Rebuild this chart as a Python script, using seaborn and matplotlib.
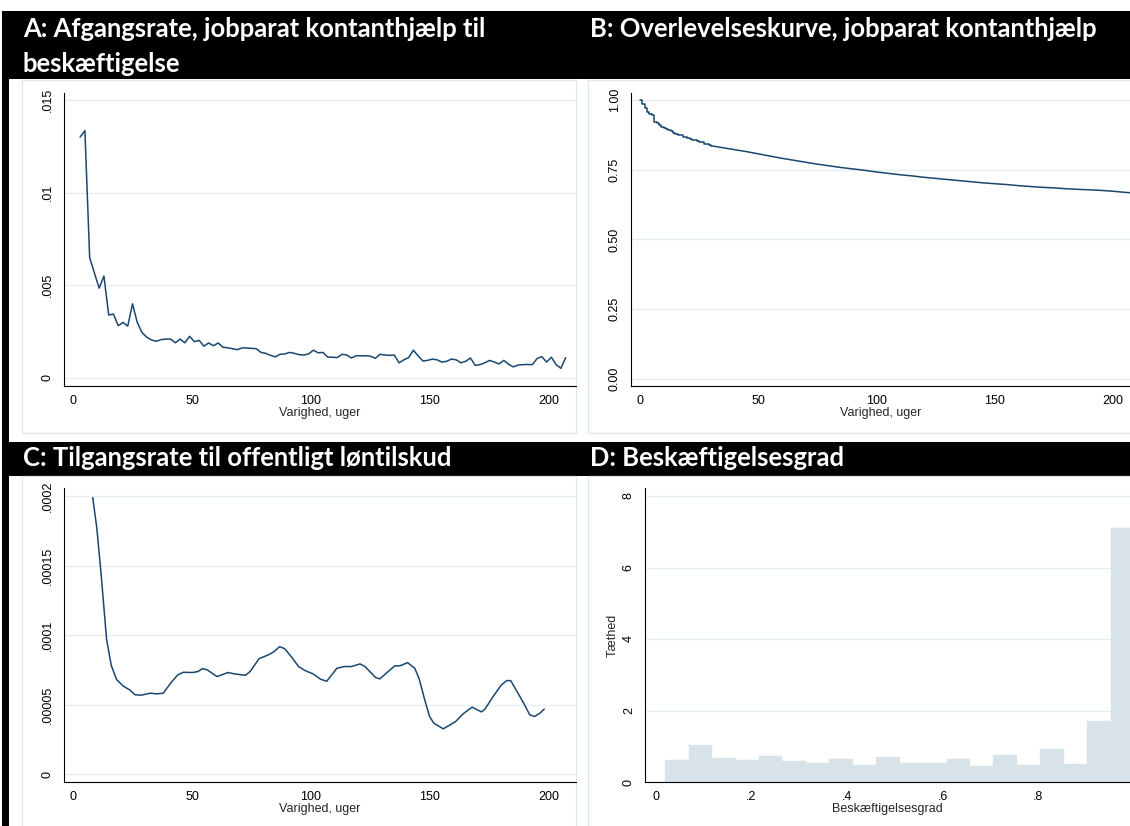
import numpy as np
import pandas as pd
import matplotlib
matplotlib.use("Agg")
import matplotlib.pyplot as plt
import seaborn as sns
from matplotlib.patches import Rectangle

# ---------------- data ----------------
titles_a = ["A: Afgangsrate, jobparat kontanthjælp til", "beskæftigelse"]
title_b = "B: Overlevelseskurve, jobparat kontanthjælp"
title_c = "C: Tilgangsrate til offentligt løntilskud"
title_d = "D: Beskæftigelsesgrad"
xlabel_weeks = "Varighed, uger"
xlabel_d = "Beskæftigelsesgrad"
ylabel_d = "Tæthed"

# Panel A: exit rate by week (x 1e-3)
weeks_a = list(range(3, 208, 2))
rate_a_milli = [13.0, 13.35, 6.5, 5.66, 4.85, 5.5, 3.4, 3.45, 2.82, 3.0,
                2.8, 4.0, 3.0, 2.45, 2.2, 2.05, 1.98, 2.07, 2.1, 2.1,
                1.9, 2.1, 1.9, 2.25, 1.96, 2.03, 1.72, 1.89, 1.74, 1.89,
                1.66, 1.63, 1.58, 1.53, 1.62, 1.62, 1.6, 1.58, 1.38, 1.33,
                1.22, 1.14, 1.28, 1.3, 1.38, 1.33, 1.26, 1.24, 1.3, 1.5,
                1.36, 1.38, 1.13, 1.12, 1.1, 1.28, 1.24, 1.08, 1.2, 1.2,
                1.2, 1.18, 1.06, 1.28, 1.24, 1.22, 1.24, 0.82, 0.98, 1.1,
                1.5, 1.2, 0.92, 0.95, 1.02, 0.98, 0.86, 0.9, 1.02, 0.98,
                0.82, 0.9, 1.08, 0.68, 0.72, 0.82, 0.95, 0.86, 0.76, 0.95,
                0.74, 0.6, 0.7, 0.72, 0.73, 0.72, 1.05, 1.15, 0.86, 1.12,
                0.72, 0.52, 1.1]
yticks_a = [0, 0.005, 0.01, 0.015]
yticklabels_a = ["0", ".005", ".01", ".015"]

# Panel B: survival curve (weekly steps early, then a smooth decline)
weeks_b = [0, 1, 2, 3, 4, 5, 6, 7, 8, 9, 10, 11, 12, 13, 14, 15, 16, 17, 18, 19,
           20, 21, 22, 23, 24, 25, 26, 27, 28, 29, 30, 35, 40, 45, 50, 55, 60, 65,
           70, 75, 80, 85, 90, 95, 100, 105, 110, 115, 120, 125, 130, 135, 140,
           145, 150, 155, 160, 165, 170, 175, 180, 185, 190, 195, 200, 205, 210]
surv_b = [1.0, 0.985, 0.972, 0.958, 0.950, 0.945, 0.922, 0.917, 0.912, 0.905,
          0.900, 0.896, 0.892, 0.888, 0.882, 0.878, 0.876, 0.873, 0.869, 0.866,
          0.863, 0.861, 0.858, 0.855, 0.853, 0.850, 0.848, 0.843, 0.841, 0.838,
          0.836, 0.829, 0.822, 0.815, 0.807, 0.799, 0.791, 0.784, 0.777, 0.770,
          0.764, 0.758, 0.753, 0.748, 0.742, 0.737, 0.732, 0.728, 0.723, 0.719,
          0.715, 0.711, 0.707, 0.703, 0.700, 0.697, 0.693, 0.690, 0.687, 0.685,
          0.682, 0.680, 0.678, 0.676, 0.673, 0.669, 0.666]
yticks_b = [0, 0.25, 0.5, 0.75, 1.0]
yticklabels_b = ["0.00", "0.25", "0.50", "0.75", "1.00"]

# Panel C: entry rate to public wage subsidy (x 1e-6)
weeks_c = [8.3, 10, 11.8, 14.1, 16.1, 18.3, 21, 23.8, 26.1, 28.7,
           32.3, 35.2, 37.9, 41, 44, 46.4, 50.2, 52.5, 54.4, 56.4,
           60.5, 65.1, 67.9, 72.5, 74.5, 78.2, 81.7, 84.3, 86.8, 88.9,
           91.7, 94.8, 97.5, 100.9, 104, 106.6, 110.9, 114, 117, 120.6,
           122.7, 127, 128.9, 131.6, 135.2, 137.3, 140.6, 143.6, 145.5, 147.8,
           149.8, 151.6, 155.5, 157.8, 160.8, 163.9, 167.7, 171.6, 173.1, 176.5,
           180, 182.3, 183.9, 187, 189.6, 191.9, 193.9, 196.2, 198]
rate_c_micro = [198.8, 177, 144, 97, 78, 68, 63.4, 60.5, 57, 56.7,
                58.1, 57.7, 58.1, 65.3, 71.3, 73.2, 73, 73.7, 75.8, 74.9,
                70.1, 73, 72, 71, 73.9, 83, 85.4, 87.8, 91.6, 90.2,
                84.4, 77.3, 74.4, 72, 68.2, 66.7, 76.1, 77.3, 77.3, 79.2,
                77.3, 69.6, 68.4, 72.5, 77.8, 77.8, 80.1, 76.1, 68.2, 53.3,
                41.4, 36.6, 32.5, 34.7, 37.8, 43.3, 48.1, 44.7, 46.7, 55.7,
                64.1, 67.2, 67.2, 58.1, 50.2, 42.6, 41.4, 43.8, 46.7]
yticks_c = [0, 0.00005, 0.0001, 0.00015, 0.0002]
yticklabels_c = ["0", ".00005", ".0001", ".00015", ".0002"]

# Panel D: histogram of employment degree (density per bin)
dens_d = [0.62, 1.04, 0.66, 0.62, 0.73, 0.60, 0.54, 0.65, 0.48, 0.70,
          0.54, 0.54, 0.65, 0.45, 0.76, 0.48, 0.93, 0.51, 1.71, 7.10]
yticks_d = [0, 2, 4, 6, 8]
yticklabels_d = ["0", "2", "4", "6", "8"]
xticks_d = [0, 0.2, 0.4, 0.6, 0.8]
xticklabels_d = ["0", ".2", ".4", ".6", ".8"]
xticks_weeks = [0, 50, 100, 150, 200]
xticklabels_weeks = ["0", "50", "100", "150", "200"]

# ---------------- style ----------------
sns.set_theme(style="white")
plt.rcParams["font.family"] = ["Liberation Sans", "DejaVu Sans"]

W, H = 1130, 826
fig = plt.figure(figsize=(W / 100, H / 100), dpi=100)
fig.patch.set_facecolor("white")

NAVY = "#1a476f"
GRID = "#e6eef1"
REGION = "#dfe8ec"
BAR = "#d8e3e9"
FS = 9


def rect(x0, y0, x1, y1, fc="none", ec="none", lw=0, z=-2):
    fig.add_artist(Rectangle((x0 / W, 1 - y1 / H), (x1 - x0) / W, (y1 - y0) / H,
                             transform=fig.transFigure, facecolor=fc,
                             edgecolor=ec, linewidth=lw, zorder=z))


def px_axes(x0, y0, x1, y1):
    ax = fig.add_axes([x0 / W, 1 - y1 / H, (x1 - x0) / W, (y1 - y0) / H])
    ax.set_zorder(2)
    return ax


# black title bands and left border
rect(8, 11, W, 79, fc="black", z=-2)
rect(8, 442, W, 476, fc="black", z=-2)
rect(2, 11, 9, H, fc="black", z=-2)
# light panel regions
for (x0, y0, x1, y1) in [(22, 80, 576, 433), (588, 80, W + 2, 433),
                         (22, 476, 576, H + 2), (588, 476, W + 2, H + 2)]:
    rect(x0, y0, x1, y1, fc="white", ec=REGION, lw=0.9, z=-1)


def style_axes(ax, yticks, yticklabels, xticks, xticklabels):
    ax.set_facecolor("white")
    for s in ["top", "right"]:
        ax.spines[s].set_visible(False)
    for s in ["left", "bottom"]:
        ax.spines[s].set_color("black")
        ax.spines[s].set_linewidth(0.8)
    ax.set_yticks(yticks)
    ax.set_yticklabels(yticklabels, rotation=90, va="center")
    ax.set_xticks(xticks)
    ax.set_xticklabels(xticklabels)
    ax.tick_params(axis="both", direction="out", length=3.8, width=0.8,
                   color="black", labelsize=FS, labelcolor="black")
    ax.tick_params(axis="y", pad=3.5)
    ax.tick_params(axis="x", pad=2.5)
    ax.yaxis.grid(True, color=GRID, linewidth=1.0)
    ax.xaxis.grid(False)
    ax.set_axisbelow(True)


# Panel A
axA = px_axes(64, 93, 576, 386)
sns.lineplot(x=weeks_a, y=np.array(rate_a_milli) / 1000, ax=axA, color=NAVY,
             linewidth=1.1, estimator=None, sort=False)
style_axes(axA, yticks_a, yticklabels_a, xticks_weeks, xticklabels_weeks)
axA.set_xlim(-9 / 2.38, (576 - 73) / 2.38)
axA.set_ylim(-8 / 18533, 0.015 + 7 / 18533)
axA.set_xlabel(xlabel_weeks, fontsize=FS, labelpad=0)
axA.set_ylabel("")

# Panel B: weekly steps up to week 30, smooth afterwards (tiny steps)
axB = px_axes(631, 93, W, 386)
n_step = weeks_b.index(30) + 1
sns.lineplot(x=weeks_b[:n_step], y=surv_b[:n_step], ax=axB, color=NAVY,
             linewidth=1.1, estimator=None, sort=False, drawstyle="steps-post")
sns.lineplot(x=weeks_b[n_step - 1:], y=surv_b[n_step - 1:], ax=axB, color=NAVY,
             linewidth=1.1, estimator=None, sort=False)
style_axes(axB, yticks_b, yticklabels_b, xticks_weeks, xticklabels_weeks)
axB.set_xlim(-9 / 2.365, (W - 640) / 2.365)
axB.set_ylim(-7 / 279, 1 + 7 / 279)
axB.set_xlabel(xlabel_weeks, fontsize=FS, labelpad=0)
axB.set_ylabel("")

# Panel C
axC = px_axes(64, 488, 576, 782)
sns.lineplot(x=weeks_c, y=np.array(rate_c_micro) * 1e-6, ax=axC, color=NAVY,
             linewidth=1.1, estimator=None, sort=False)
style_axes(axC, yticks_c, yticklabels_c, xticks_weeks, xticklabels_weeks)
axC.set_xlim(-9 / 2.38, (576 - 73) / 2.38)
axC.set_ylim(-8 / 1.39e6, 0.0002 + 8 / 1.39e6)
axC.set_xlabel(xlabel_weeks, fontsize=FS, labelpad=0)
axC.set_ylabel("")

# Panel D
axD = px_axes(645, 488, W, 782)
bin_edges = [float(v) for v in 0.02 + 0.049 * np.arange(len(dens_d) + 1)]
df_d = pd.DataFrame({"center": [(a + b) / 2 for a, b in zip(bin_edges[:-1], bin_edges[1:])],
                     "dens": dens_d})
sns.histplot(data=df_d, x="center", weights="dens", bins=bin_edges,
             stat="count", ax=axD, color=BAR, edgecolor=BAR, linewidth=0.3,
             alpha=1.0)
style_axes(axD, yticks_d, yticklabels_d, xticks_d, xticklabels_d)
axD.set_xlim(-10.7 / 478.4, (W - 655.7) / 478.4)
axD.set_ylim(0, 8 + 8 / 35.75)
axD.set_xlabel(xlabel_d, fontsize=FS, labelpad=0)
axD.set_ylabel(ylabel_d, fontsize=FS, labelpad=3)

# ---------------- titles ----------------
TFONT = ["Lato", "Open Sans", "DejaVu Sans"]
specs = [(titles_a[0], 23, 37, 484), (titles_a[1], 23, 72, None),
         (title_b, 590, 37, 500), (title_c, 23, 466, 429),
         (title_d, 590, 466, 248)]
base = 16
texts = []
for s, x, y, tw in specs:
    t = fig.text(x / W, 1 - y / H, s, color="white", fontsize=base,
                 fontweight="bold", family=TFONT, ha="left", va="baseline",
                 zorder=5)
    texts.append((t, tw))
fig.canvas.draw()
r = fig.canvas.get_renderer()
meas = sum(t.get_window_extent(r).width for t, tw in texts if tw)
targ = sum(tw for t, tw in texts if tw)
fs = base * targ / meas
for t, tw in texts:
    t.set_fontsize(fs)

fig.savefig("out.png", dpi=100, facecolor="white")
